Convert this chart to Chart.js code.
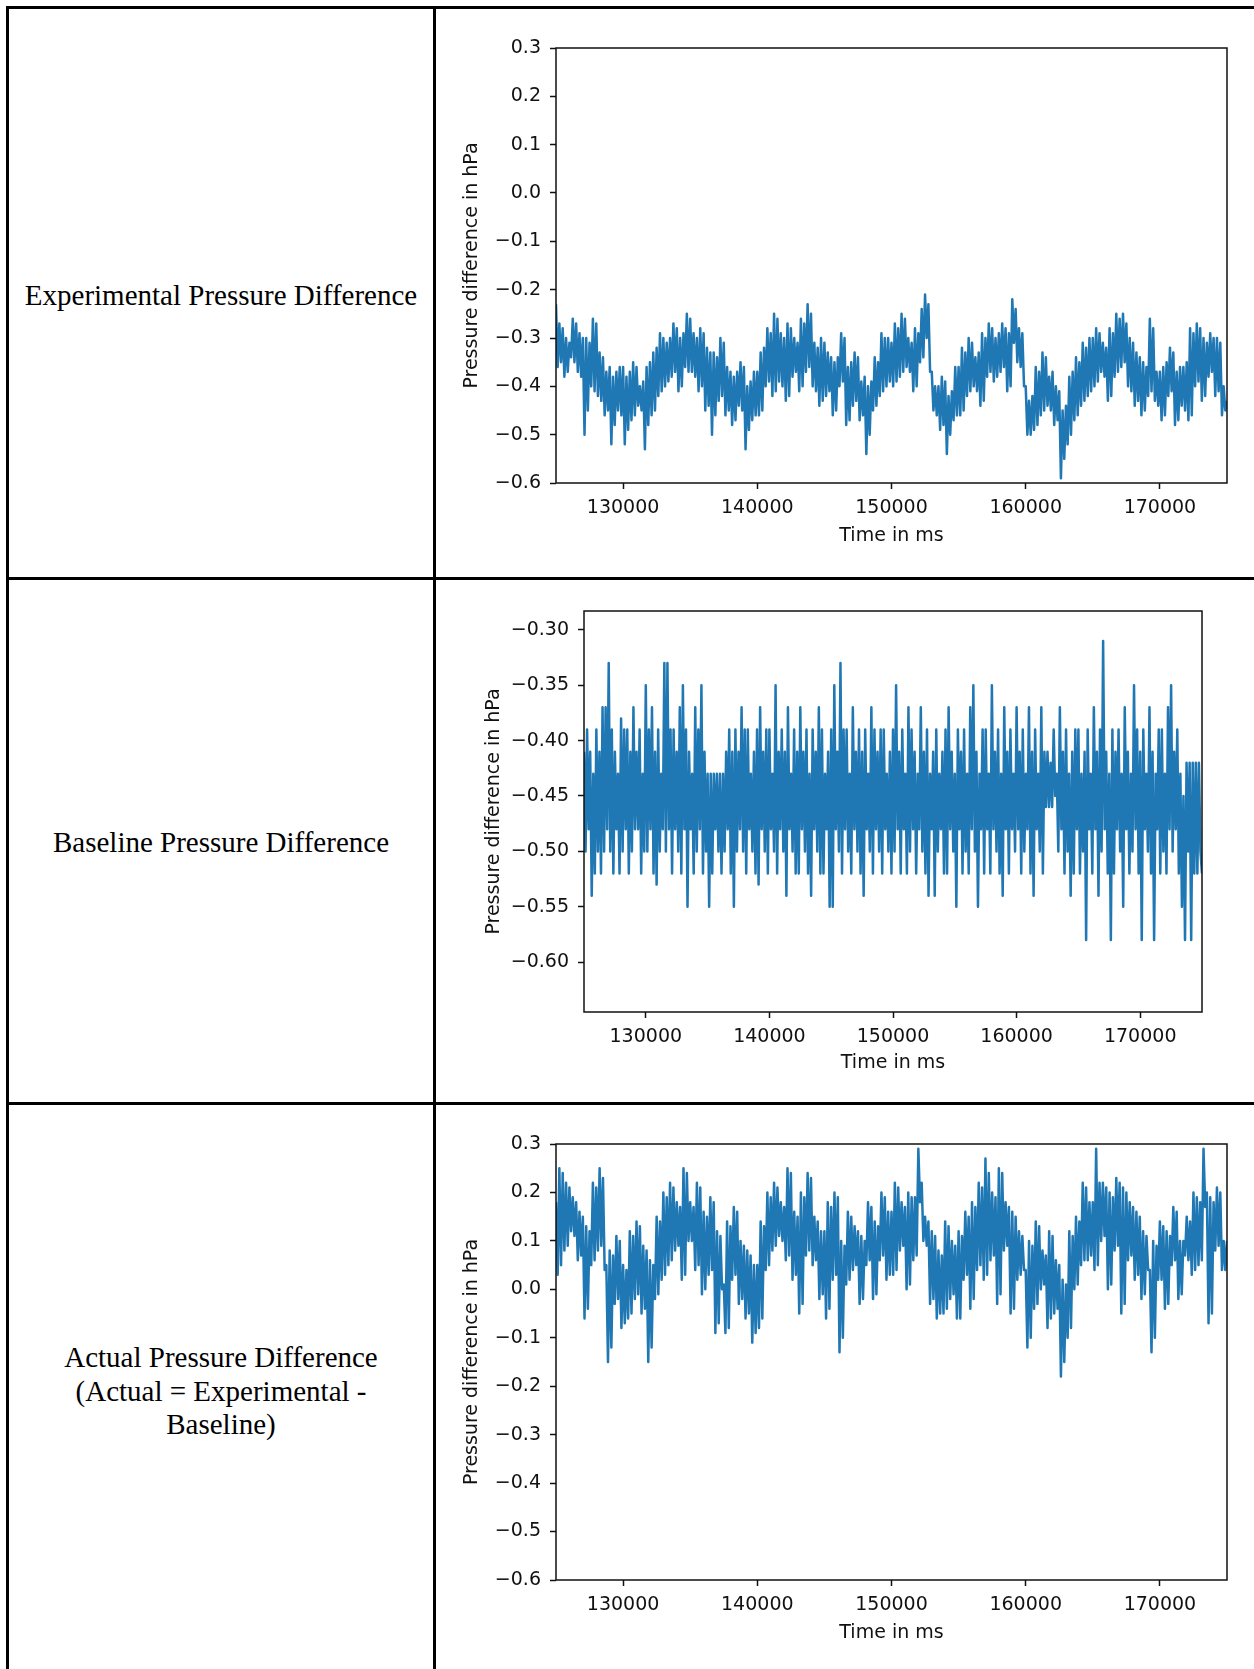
<!DOCTYPE html>
<html>
<head>
<meta charset="utf-8">
<script src="https://cdn.jsdelivr.net/npm/chart.js"></script>
<style>
  body { margin: 0; background: #fff; width: 1254px; height: 1669px; overflow: hidden; position: relative; }
  .rule { position: absolute; background: #000; }
  .label { position: absolute; left: 9px; width: 424px; text-align: center;
           font-family: "Liberation Serif", "Times New Roman", serif; font-size: 29px; line-height: 33.5px; color: #000; }
  canvas { position: absolute; }
</style>
</head>
<body>
<!-- table grid -->
<div class="rule" style="left:6px; top:6px; width:1260px; height:3px;"></div>
<div class="rule" style="left:6px; top:6px; width:3px; height:1680px;"></div>
<div class="rule" style="left:433px; top:6px; width:3px; height:1680px;"></div>
<div class="rule" style="left:6px; top:577px; width:1260px; height:3px;"></div>
<div class="rule" style="left:6px; top:1102px; width:1260px; height:3px;"></div>

<div class="label" style="top:279px;">Experimental Pressure Difference</div>
<div class="label" style="top:826px;">Baseline Pressure Difference</div>
<div class="label" style="top:1341px;">Actual Pressure Difference<br>(Actual = Experimental -<br>Baseline)</div>

<canvas id="expChart" width="820" height="560" style="left:434px; top:10px;"></canvas>
<canvas id="baseChart" width="820" height="515" style="left:434px; top:582px;"></canvas>
<canvas id="actualChart" width="820" height="560" style="left:434px; top:1107px;"></canvas>

<script>
// samples every 125 ms from 125000 ms to 175000 ms
var sampleStart = 125000;
var sampleStep = 125;

var xTicks = [130000, 140000, 150000, 160000, 170000];
var xTickLabels = ['130000', '140000', '150000', '160000', '170000'];

var wideTicks = [-0.6, -0.5, -0.4, -0.3, -0.2, -0.1, 0.0, 0.1, 0.2, 0.3];
var wideTickLabels = ['\u22120.6', '\u22120.5', '\u22120.4', '\u22120.3', '\u22120.2', '\u22120.1', '0.0', '0.1', '0.2', '0.3'];

var baseTicks = [-0.60, -0.55, -0.50, -0.45, -0.40, -0.35, -0.30];
var baseTickLabels = ['\u22120.60', '\u22120.55', '\u22120.50', '\u22120.45', '\u22120.40', '\u22120.35', '\u22120.30'];

// Experimental pressure difference (hPa), two rows = 5000 ms
var experimental = [
  -0.23,-0.36,-0.27,-0.35,-0.28,-0.38,-0.30,-0.37,-0.31,-0.34,-0.26,-0.35,-0.27,-0.37,-0.29,-0.38,-0.30,-0.50,-0.30,-0.45,
  -0.31,-0.40,-0.26,-0.41,-0.27,-0.42,-0.33,-0.43,-0.34,-0.46,-0.37,-0.45,-0.36,-0.52,-0.38,-0.48,-0.37,-0.45,-0.36,-0.46,
  -0.36,-0.52,-0.38,-0.49,-0.37,-0.47,-0.35,-0.46,-0.36,-0.44,-0.40,-0.45,-0.39,-0.53,-0.36,-0.48,-0.35,-0.46,-0.33,-0.45,
  -0.32,-0.42,-0.29,-0.41,-0.30,-0.40,-0.31,-0.39,-0.30,-0.38,-0.27,-0.37,-0.28,-0.41,-0.30,-0.40,-0.29,-0.36,-0.25,-0.37,
  -0.26,-0.37,-0.29,-0.38,-0.30,-0.41,-0.28,-0.40,-0.29,-0.45,-0.32,-0.44,-0.33,-0.50,-0.33,-0.46,-0.34,-0.43,-0.30,-0.42,
  -0.31,-0.46,-0.36,-0.45,-0.37,-0.48,-0.38,-0.47,-0.37,-0.44,-0.35,-0.45,-0.36,-0.53,-0.40,-0.49,-0.39,-0.47,-0.37,-0.46,
  -0.37,-0.46,-0.33,-0.45,-0.32,-0.40,-0.28,-0.39,-0.29,-0.42,-0.25,-0.41,-0.26,-0.39,-0.29,-0.40,-0.30,-0.43,-0.27,-0.42,
  -0.28,-0.38,-0.30,-0.37,-0.31,-0.41,-0.26,-0.40,-0.27,-0.37,-0.23,-0.36,-0.25,-0.40,-0.31,-0.41,-0.32,-0.44,-0.30,-0.43,
  -0.31,-0.42,-0.33,-0.41,-0.34,-0.46,-0.35,-0.45,-0.34,-0.40,-0.29,-0.39,-0.30,-0.48,-0.36,-0.47,-0.35,-0.44,-0.33,-0.43,
  -0.34,-0.47,-0.39,-0.46,-0.38,-0.54,-0.40,-0.50,-0.39,-0.45,-0.34,-0.44,-0.35,-0.42,-0.29,-0.41,-0.30,-0.40,-0.30,-0.39,
  -0.31,-0.40,-0.27,-0.39,-0.28,-0.38,-0.25,-0.37,-0.26,-0.36,-0.30,-0.37,-0.31,-0.41,-0.28,-0.40,-0.29,-0.35,-0.24,-0.34,
  -0.21,-0.30,-0.23,-0.37,-0.37,-0.45,-0.40,-0.46,-0.40,-0.49,-0.38,-0.48,-0.39,-0.54,-0.42,-0.50,-0.41,-0.47,-0.36,-0.46,
  -0.36,-0.46,-0.32,-0.45,-0.33,-0.42,-0.30,-0.41,-0.31,-0.40,-0.34,-0.41,-0.33,-0.44,-0.29,-0.43,-0.30,-0.38,-0.27,-0.37,
  -0.28,-0.39,-0.30,-0.38,-0.29,-0.37,-0.27,-0.36,-0.28,-0.41,-0.29,-0.40,-0.22,-0.31,-0.24,-0.35,-0.28,-0.36,-0.29,-0.40,
  -0.40,-0.50,-0.43,-0.50,-0.42,-0.49,-0.36,-0.48,-0.37,-0.46,-0.33,-0.45,-0.34,-0.44,-0.38,-0.45,-0.37,-0.48,-0.40,-0.47,
  -0.41,-0.59,-0.45,-0.55,-0.44,-0.52,-0.38,-0.50,-0.37,-0.47,-0.34,-0.46,-0.35,-0.44,-0.31,-0.43,-0.32,-0.42,-0.30,-0.41,
  -0.30,-0.40,-0.28,-0.39,-0.29,-0.37,-0.31,-0.38,-0.32,-0.43,-0.28,-0.42,-0.29,-0.38,-0.25,-0.37,-0.26,-0.36,-0.25,-0.35,
  -0.27,-0.40,-0.30,-0.41,-0.31,-0.44,-0.33,-0.43,-0.34,-0.46,-0.35,-0.45,-0.36,-0.42,-0.26,-0.41,-0.28,-0.43,-0.37,-0.44,
  -0.37,-0.47,-0.36,-0.46,-0.35,-0.42,-0.32,-0.41,-0.33,-0.48,-0.37,-0.47,-0.36,-0.44,-0.36,-0.45,-0.35,-0.47,-0.28,-0.46,
  -0.29,-0.40,-0.27,-0.39,-0.28,-0.43,-0.30,-0.42,-0.31,-0.38,-0.29,-0.37,-0.30,-0.42,-0.30,-0.41,-0.31,-0.46,-0.40,-0.45,-0.43
];

// Baseline pressure difference (hPa)
var baseline = [
  -0.41,-0.50,-0.39,-0.48,-0.41,-0.54,-0.43,-0.52,-0.39,-0.50,-0.41,-0.52,-0.37,-0.50,-0.37,-0.48,-0.33,-0.50,-0.39,-0.52,
  -0.41,-0.48,-0.43,-0.52,-0.38,-0.50,-0.39,-0.48,-0.39,-0.52,-0.41,-0.50,-0.37,-0.48,-0.41,-0.48,-0.39,-0.52,-0.43,-0.50,
  -0.35,-0.50,-0.39,-0.48,-0.37,-0.52,-0.41,-0.53,-0.39,-0.50,-0.43,-0.48,-0.33,-0.50,-0.33,-0.48,-0.39,-0.52,-0.39,-0.48,
  -0.41,-0.50,-0.37,-0.52,-0.35,-0.48,-0.39,-0.55,-0.41,-0.48,-0.43,-0.52,-0.37,-0.50,-0.39,-0.48,-0.35,-0.52,-0.41,-0.50,
  -0.43,-0.55,-0.43,-0.52,-0.43,-0.48,-0.43,-0.50,-0.43,-0.52,-0.43,-0.50,-0.41,-0.48,-0.39,-0.52,-0.41,-0.55,-0.39,-0.50,
  -0.41,-0.48,-0.37,-0.50,-0.39,-0.52,-0.39,-0.48,-0.43,-0.50,-0.41,-0.52,-0.39,-0.53,-0.37,-0.48,-0.41,-0.50,-0.39,-0.52,
  -0.39,-0.48,-0.43,-0.50,-0.35,-0.52,-0.41,-0.48,-0.39,-0.50,-0.41,-0.54,-0.37,-0.48,-0.43,-0.50,-0.39,-0.52,-0.41,-0.52,
  -0.37,-0.48,-0.41,-0.50,-0.39,-0.52,-0.43,-0.54,-0.39,-0.48,-0.41,-0.50,-0.37,-0.52,-0.39,-0.52,-0.43,-0.48,-0.41,-0.55,
  -0.39,-0.55,-0.35,-0.48,-0.41,-0.50,-0.33,-0.52,-0.39,-0.48,-0.39,-0.50,-0.43,-0.52,-0.37,-0.48,-0.41,-0.50,-0.39,-0.52,
  -0.41,-0.54,-0.39,-0.48,-0.43,-0.50,-0.37,-0.52,-0.39,-0.48,-0.41,-0.50,-0.39,-0.52,-0.39,-0.48,-0.43,-0.50,-0.41,-0.52,
  -0.39,-0.50,-0.35,-0.48,-0.41,-0.52,-0.39,-0.48,-0.43,-0.52,-0.37,-0.50,-0.39,-0.48,-0.41,-0.52,-0.43,-0.48,-0.37,-0.50,
  -0.41,-0.52,-0.39,-0.54,-0.43,-0.48,-0.41,-0.54,-0.39,-0.50,-0.43,-0.48,-0.41,-0.52,-0.39,-0.52,-0.37,-0.48,-0.41,-0.50,
  -0.43,-0.55,-0.39,-0.48,-0.41,-0.52,-0.39,-0.50,-0.43,-0.52,-0.37,-0.48,-0.35,-0.50,-0.41,-0.55,-0.43,-0.48,-0.39,-0.52,
  -0.39,-0.48,-0.43,-0.52,-0.35,-0.48,-0.41,-0.50,-0.39,-0.52,-0.43,-0.54,-0.37,-0.48,-0.41,-0.52,-0.39,-0.48,-0.43,-0.50,
  -0.37,-0.48,-0.41,-0.52,-0.39,-0.50,-0.43,-0.48,-0.37,-0.52,-0.41,-0.54,-0.39,-0.48,-0.43,-0.50,-0.37,-0.52,-0.41,-0.46,
  -0.41,-0.46,-0.42,-0.46,-0.39,-0.45,-0.43,-0.50,-0.37,-0.48,-0.41,-0.52,-0.39,-0.50,-0.43,-0.54,-0.41,-0.52,-0.39,-0.48,
  -0.39,-0.52,-0.43,-0.50,-0.41,-0.58,-0.39,-0.48,-0.43,-0.52,-0.37,-0.48,-0.41,-0.54,-0.39,-0.50,-0.31,-0.48,-0.41,-0.52,
  -0.43,-0.58,-0.39,-0.52,-0.41,-0.48,-0.39,-0.50,-0.43,-0.55,-0.37,-0.48,-0.41,-0.52,-0.43,-0.50,-0.35,-0.48,-0.39,-0.52,
  -0.41,-0.58,-0.39,-0.48,-0.43,-0.50,-0.37,-0.52,-0.41,-0.58,-0.43,-0.48,-0.39,-0.52,-0.39,-0.50,-0.43,-0.52,-0.37,-0.48,
  -0.35,-0.50,-0.41,-0.48,-0.39,-0.52,-0.43,-0.55,-0.45,-0.58,-0.42,-0.50,-0.42,-0.58,-0.42,-0.52,-0.42,-0.52,-0.42,-0.50,-0.52
];

// Actual pressure difference (hPa)
var actual = [
  0.18,0.03,0.25,0.05,0.24,0.08,0.22,0.09,0.21,0.12,0.19,0.11,0.18,0.06,0.16,0.07,0.15,-0.06,0.13,-0.04,
  0.12,0.05,0.22,0.06,0.21,0.08,0.25,0.09,0.23,0.04,0.05,-0.15,0.08,-0.12,0.07,-0.03,0.11,-0.02,0.10,-0.08,
  0.05,-0.07,0.04,-0.06,0.12,-0.05,0.11,-0.02,0.14,-0.01,0.13,-0.05,0.09,-0.04,0.08,-0.15,0.06,-0.12,0.05,-0.02,
  0.15,-0.01,0.14,0.02,0.20,0.03,0.19,0.05,0.22,0.06,0.21,0.08,0.18,0.09,0.17,0.02,0.25,0.03,0.24,0.10,
  0.18,0.10,0.17,0.04,0.22,0.05,0.21,-0.01,0.16,0.00,0.15,0.03,0.19,0.04,0.18,-0.09,0.12,-0.07,0.11,0.00,
  0.01,-0.09,0.14,-0.08,0.13,0.02,0.17,0.03,0.16,-0.03,0.10,-0.02,0.09,-0.06,0.08,-0.05,0.07,-0.11,0.05,-0.09,
  0.05,-0.08,0.14,-0.06,0.13,0.04,0.20,0.05,0.19,0.08,0.22,0.09,0.21,0.11,0.18,0.10,0.17,0.06,0.25,0.07,
  0.24,0.02,0.16,0.03,0.15,-0.05,0.20,-0.03,0.19,0.07,0.24,0.08,0.23,0.05,0.15,0.06,0.14,-0.02,0.12,-0.01,
  0.12,-0.06,0.18,-0.04,0.17,0.02,0.20,0.03,0.19,-0.13,0.10,-0.10,0.09,0.01,0.16,0.02,0.15,0.04,0.13,0.05,
  0.12,-0.03,0.11,-0.02,0.10,0.05,0.18,0.06,0.17,-0.02,0.14,-0.01,0.13,0.06,0.20,0.07,0.19,0.02,0.16,0.03,
  0.16,0.03,0.22,0.04,0.21,0.08,0.18,0.09,0.17,0.00,0.20,0.01,0.19,0.06,0.19,0.07,0.29,0.18,0.22,0.10,
  0.15,0.09,0.14,-0.03,0.12,-0.02,0.11,-0.06,0.08,-0.05,0.07,-0.05,0.14,-0.04,0.13,-0.02,0.10,-0.01,0.09,-0.06,
  0.12,-0.06,0.11,0.02,0.16,0.03,0.15,-0.04,0.18,-0.02,0.17,0.04,0.22,0.05,0.21,0.02,0.27,0.03,0.24,0.06,
  0.20,0.07,0.19,-0.03,0.25,-0.01,0.24,0.08,0.18,0.09,0.17,-0.05,0.16,-0.04,0.15,0.02,0.12,0.03,0.11,0.04,
  0.04,-0.12,0.10,-0.10,0.09,-0.04,0.14,-0.03,0.13,0.00,0.08,0.01,0.07,-0.08,0.12,-0.06,0.11,-0.05,0.06,-0.04,
  0.05,-0.18,0.02,-0.15,0.01,-0.10,0.12,-0.08,0.11,0.00,0.15,0.01,0.14,0.05,0.22,0.06,0.21,0.06,0.18,0.07,
  0.18,0.04,0.29,0.05,0.22,0.10,0.22,0.11,0.21,0.00,0.20,0.01,0.19,0.08,0.23,0.09,0.22,-0.05,0.21,-0.03,
  0.20,0.06,0.18,0.07,0.17,0.02,0.16,0.03,0.15,-0.02,0.12,-0.01,0.11,0.04,0.04,-0.13,0.10,-0.10,0.09,0.02,
  0.14,0.02,0.13,-0.04,0.12,-0.03,0.11,0.05,0.17,0.06,0.16,-0.02,0.10,-0.01,0.10,0.07,0.15,0.06,0.14,0.03,
  0.20,0.04,0.19,0.05,0.18,0.06,0.29,0.17,0.20,-0.07,0.19,-0.05,0.18,0.08,0.21,0.09,0.20,0.04,0.10,0.04,0.10
];

var tickFont = { family: 'DejaVu Sans', size: 19 };

// draws the full box round the plot area, like matplotlib spines
var framePlugin = {
    id: 'frame',
    afterDatasetsDraw: function(chart) {
        var a = chart.chartArea;
        var ctx = chart.ctx;
        ctx.save();
        ctx.strokeStyle = '#111';
        ctx.lineWidth = 1.5;
        ctx.strokeRect(a.left, a.top, a.right - a.left, a.bottom - a.top);
        ctx.restore();
    }
};

function makeChart(id, values, yMin, yMax, yTicks, yTickLabels, axisWidth, titleGap, pad) {
    var points = values.map(function(v, i) {
        return { x: sampleStart + i * sampleStep, y: v };
    });
    return new Chart(document.getElementById(id).getContext('2d'), {
        type: 'line',
        data: {
            datasets: [{
                data: points,
                borderColor: '#1f77b4',
                borderWidth: 2.5,
                borderJoinStyle: 'round',
                pointRadius: 0,
                tension: 0,
                fill: false
            }]
        },
        options: {
            responsive: false,
            animation: false,
            devicePixelRatio: 1,
            layout: { padding: pad },
            plugins: { legend: { display: false }, tooltip: { enabled: false } },
            scales: {
                x: {
                    type: 'linear',
                    min: 125000,
                    max: 175000,
                    afterBuildTicks: function(scale) {
                        scale.ticks = xTicks.map(function(v) { return { value: v }; });
                    },
                    afterFit: function(scale) { scale.height = pad.xHeight; },
                    border: { display: false },
                    grid: { drawOnChartArea: false, drawTicks: true, tickLength: 6, tickColor: '#111', tickWidth: 1.5 },
                    ticks: {
                        font: tickFont, color: '#111', padding: 8, maxRotation: 0, autoSkip: false,
                        callback: function(v, i) { return xTickLabels[i]; }
                    },
                    title: { display: true, text: 'Time in ms', font: tickFont, color: '#111', padding: { top: 0, bottom: 23 } }
                },
                y: {
                    type: 'linear',
                    min: yMin,
                    max: yMax,
                    afterBuildTicks: function(scale) {
                        scale.ticks = yTicks.map(function(v) { return { value: v }; });
                    },
                    afterFit: function(scale) { scale.width = axisWidth; },
                    border: { display: false },
                    grid: { drawOnChartArea: false, drawTicks: true, tickLength: 6, tickColor: '#111', tickWidth: 1.5 },
                    ticks: {
                        font: tickFont, color: '#111', padding: 9, autoSkip: false,
                        callback: function(v, i) { return yTickLabels[i]; }
                    },
                    title: { display: true, text: 'Pressure difference in hPa', font: tickFont, color: '#111', padding: { top: titleGap, bottom: 0 } }
                }
            }
        },
        plugins: [framePlugin]
    });
}

makeChart('expChart', experimental, -0.6, 0.3, wideTicks, wideTickLabels, 122, 27,
    { left: 0, right: 27, top: 38, bottom: 0, xHeight: 87 });
makeChart('baseChart', baseline, -0.645, -0.283, baseTicks, baseTickLabels, 150, 49,
    { left: 0, right: 52, top: 29, bottom: 0, xHeight: 85 });
makeChart('actualChart', actual, -0.6, 0.3, wideTicks, wideTickLabels, 122, 27,
    { left: 0, right: 27, top: 37, bottom: 0, xHeight: 87 });
</script>
</body>
</html>
